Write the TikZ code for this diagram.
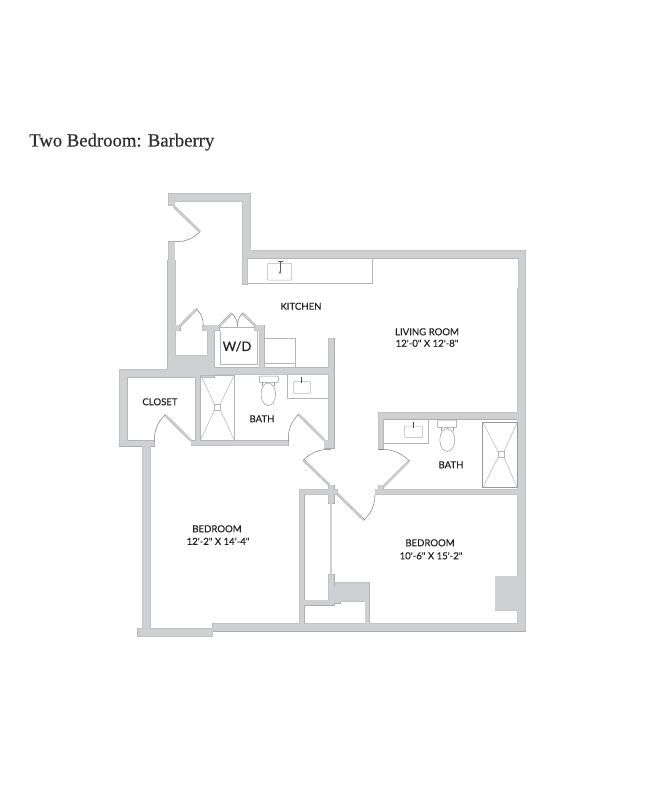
\documentclass[tikz,border=0pt]{standalone}
\usepackage{fontspec}
\setmainfont{Liberation Serif}
\newfontfamily\titlefont[FakeBold=0.35]{Liberation Serif}
\newfontfamily\roomfont[FakeBold=0.2]{Lato}
\definecolor{wallgray}{HTML}{CFD0D2}
\definecolor{walledge}{HTML}{A7A9AC}
\definecolor{fixline}{HTML}{B4B5B8}
\definecolor{inktext}{HTML}{231F20}
\definecolor{titleink}{HTML}{2F2D2F}
\newcommand{\wallshape}{
  (168.3,193.3) rectangle (250.7,201.7)
  (168.3,193.3) rectangle (174.8,205.7)
  (242.3,193.3) rectangle (247.7,284.3)
  (247.7,193.3) rectangle (250.7,258.3)
  (247.7,250.3) rectangle (525.7,258.3)
  (518.3,250.3) rectangle (525.7,288)
  (517.3,288) rectangle (525.7,631)
  (212.7,623.3) rectangle (525.7,631)
  (137.7,628.3) rectangle (212.7,636.7)
  (142.3,440.7) rectangle (150.7,636)
  (119.3,369.3) rectangle (127.3,446)
  (119.3,440.7) rectangle (154.3,446)
  (119.3,369.3) rectangle (214.3,377.3)
  (195.7,369.3) rectangle (200.7,445.7)
  (191,440.7) rectangle (288.3,445.7)
  (168.3,241.7) rectangle (174.8,262)
  (167.5,260) rectangle (175.7,372)
  (175.7,355.3) rectangle (214.3,375)
  (207.3,325) rectangle (214.3,372)
  (202.3,325) rectangle (219,330.7)
  (175.7,325) rectangle (180,330.7)
  (254.3,325) rectangle (264.3,330.7)
  (259.3,325) rectangle (264.3,372)
  (200,367.7) rectangle (334,374.6)
  (328.3,338.3) rectangle (334,448)
  (324,440) rectangle (334,448)
  (378.3,412.3) rectangle (517.5,419)
  (378.3,412.3) rectangle (383.3,449.3)
  (375,489.3) rectangle (517.5,494.5)
  (378.3,485) rectangle (383.3,494.5)
  (299.3,489.3) rectangle (337.5,494.5)
  (328.3,485) rectangle (334,503.3)
  (299.3,489.3) rectangle (304,623.5)
  (328.3,574.3) rectangle (334,605)
  (299.3,600) rectangle (334,605)
  (334,586.7) rectangle (340,603)
  (335,582.3) rectangle (369.3,601.7)
  (365,582.3) rectangle (369.3,623.5)
  (495,576) rectangle (517.5,610.7)
}
\tikzset{
  wallstroke/.style={draw=walledge,line width=0.9pt},
  thinline/.style={draw=fixline,line width=0.5pt},
  darkline/.style={draw=black!65,line width=0.5pt},
  doorleaf/.style={draw=walledge,double=wallgray,line width=0.45pt,double distance=1.5pt},
  doorarc/.style={draw=black!55,line width=0.45pt},
  room/.style={font=\roomfont\fontsize{9.6}{11}\selectfont,text=inktext,inner sep=0pt},
}
\begin{document}
\begin{tikzpicture}[x=1pt,y=-1pt]
\useasboundingbox (0,0) rectangle (657,791);
\fill[white] (0,0) rectangle (657,791);
% walls
\draw[wallstroke] \wallshape;
\fill[wallgray] \wallshape;
% door leaves and swings
\draw[doorleaf] (174,206.7) -- (200,231.7);
\draw[doorarc] (200,231.7) to[bend left=22] (175,241.7);
\draw[doorleaf] (180,326) -- (196.7,309);
\draw[doorarc] (196.7,309) to[bend left=22] (203.3,326);
\draw[doorleaf] (219.3,326) -- (231.7,313.3);
\draw[doorarc] (231.7,313.3) to[bend left=22] (237.7,326.7);
\draw[doorleaf] (255.7,326) -- (242.3,313.3);
\draw[doorarc] (242.3,313.3) to[bend right=22] (237.7,326.7);
\draw[doorleaf] (191,440.7) -- (165,415);
\draw[doorarc] (165,415) to[bend right=22] (154.3,440.7);
\draw[doorleaf] (324.3,440) -- (298.3,414.3);
\draw[doorarc] (298.3,414.3) to[bend right=22] (288.3,441);
\draw[doorleaf] (329.3,485) -- (303.3,460);
\draw[doorarc] (303.3,460) to[bend left=22] (331,449.3);
\draw[doorleaf] (337.3,494) -- (364,520);
\draw[doorarc] (364,520) to[bend right=22] (375,494.3);
\draw[doorleaf] (383.3,486.7) -- (409.3,460.7);
\draw[doorarc] (409.3,460.7) to[bend right=22] (378.3,449.3);
% sliding closet door
\draw[doorleaf] (331,503.3) -- (331,574.3);
% kitchen
\draw[thinline] (247.7,283.3) -- (372.7,283.3) -- (372.7,258.3);
\draw[thinline,rounded corners=1pt] (267.3,263.3) rectangle (291.7,280);
\draw[darkline] (280,261) -- (280,273);
\draw[darkline] (278,261) -- (283,261);
\fill[black!45] (280,272.5) circle (1.3pt);
\draw[thinline] (264.3,338.3) -- (295,338.3) -- (295,367.5);
\draw[thinline] (264.3,363.3) -- (295,363.3);
\draw[thinline] (220,330.7) -- (220,364.5) -- (257,364.5) -- (257,330.7);
\draw[thinline] (220,327.5) -- (254.5,327.5);
% centre bath
\draw[thinline] (200.7,375) rectangle (234.3,440);
\draw[thinline] (214.3,404) rectangle (220.3,410);
\draw[thinline] (200.7,375) -- (214.3,404) (234.3,375) -- (220.3,404)
  (200.7,440) -- (214.3,410) (234.3,440) -- (220.3,410);
\draw[thinline,draw=black!40,fill=white] (268.3,394.3) ellipse (7.3pt and 11.3pt);
\draw[thinline,draw=black!40,fill=white,rounded corners=0.8pt] (259.3,376) rectangle (278.3,382.3);
\draw[thinline,draw=black!40] (262.5,382.3) -- (262.5,385.5) (274,382.3) -- (274,385.5);
\draw[thinline] (287.3,374.6) -- (287.3,398.3) -- (328.3,398.3);
\draw[thinline,rounded corners=1pt] (293.3,381.7) rectangle (310.7,393.3);
\draw[black!70,line width=1pt] (301.7,376.7) -- (301.7,383.3);
% right bath
\draw[thinline] (383.3,443.3) -- (428.7,443.3) -- (428.7,419);
\draw[thinline,rounded corners=1pt] (404.3,426) rectangle (422.7,437.3);
\draw[black!70,line width=1pt] (413.3,421.7) -- (413.3,428.3);
\draw[thinline,draw=black!40,fill=white] (447.3,440) ellipse (7.5pt and 11.5pt);
\draw[thinline,draw=black!40,fill=white,rounded corners=0.8pt] (437.3,420) rectangle (456.7,427.3);
\draw[thinline,draw=black!40] (441,427.3) -- (441,431) (453,427.3) -- (453,431);
\draw[draw=black!40,line width=0.5pt] (482.7,422.3) rectangle (517.3,487.7);
\draw[thinline] (498,451.3) rectangle (504,457.3);
\draw[thinline] (482.7,422.3) -- (498,451.3) (517.3,422.3) -- (504,451.3)
  (482.7,487.7) -- (498,457.3) (517.3,487.7) -- (504,457.3);
% labels
\node[anchor=base west,font=\titlefont\fontsize{18.7}{22}\selectfont,text=titleink,inner sep=0pt] (title) at (29,146.5) {Two Bedroom: Barberry};
\node[room] (kitchen) at (301,306.3) {KITCHEN};
\node[room] (living) at (427,331.8) {LIVING ROOM};
\node[room] (livingsize) at (427,343.3) {12'-0" X 12'-8"};
\node[room] (bathone) at (262,418.8) {BATH};
\node[room] (bathtwo) at (451,464.8) {BATH};
\node[room] (closet) at (160,401.8) {CLOSET};
\node[room,font=\roomfont\fontsize{13}{15}\selectfont] (wd) at (237,346.5) {W/D};
\node[room] (bedone) at (217,528.8) {BEDROOM};
\node[room] (bedonesize) at (218,541.3) {12'-2" X 14'-4"};
\node[room] (bedtwo) at (430,542.8) {BEDROOM};
\node[room] (bedtwosize) at (431,555.8) {10'-6" X 15'-2"};
\end{tikzpicture}
\end{document}
